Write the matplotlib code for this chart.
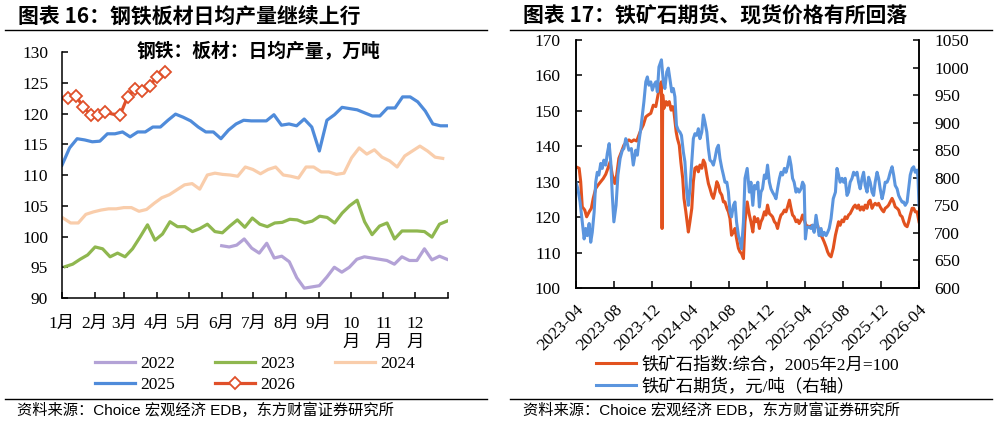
import numpy as np
import matplotlib
matplotlib.use('Agg')
import matplotlib.pyplot as plt
import matplotlib.dates as mdates
from matplotlib.lines import Line2D

plt.rcParams['font.family'] = ['Liberation Serif', 'Noto Sans CJK SC']
plt.rcParams['axes.unicode_minus'] = False

#
# left chart data: weekly plate output, 10k t/day (x = day of year)
#
month_starts = [0, 31, 59, 90, 120, 151, 181, 212, 243, 273, 304, 334]
month_labels = ['1月', '2月', '3月', '4月', '5月', '6月', '7月', '8月', '9月',
                '10\n月', '11\n月', '12\n月']

y2022 = [98.5, 98.3, 98.6, 99.6, 98.1, 97.3, 98.9, 96.5, 96.8, 95.9, 93.3, 91.6,
         91.8, 92.0, 93.4, 95.0, 94.2, 95.0, 96.3, 96.7, 96.5, 96.3, 96.1, 95.5,
         96.7, 96.1, 96.1, 98.0, 96.2, 96.8, 96.3]
y2023 = [95.1, 95.5, 96.3, 97.0, 98.3, 98.0, 96.7, 97.3, 96.7, 98.0,
         99.9, 101.9, 99.4, 100.4, 102.4, 101.6, 101.6, 100.8, 101.3, 102.0,
         100.8, 100.6, 101.7, 102.7, 101.5, 103.0, 102.0, 101.6, 102.2, 102.3,
         102.8, 102.7, 102.2, 102.5, 103.3, 103.1, 102.2, 103.8, 105.0, 105.9,
         102.4, 100.3, 101.7, 102.2, 99.6, 100.9, 100.9, 100.9, 100.8, 99.9,
         102.0, 102.5]
y2024 = [103.0, 102.2, 102.2, 103.6, 104.0, 104.3, 104.5, 104.5, 104.7, 104.7,
         104.1, 104.4, 105.4, 106.3, 106.8, 107.6, 108.4, 108.6, 107.7, 110.0,
         110.3, 110.1, 110.0, 109.8, 111.3, 110.9, 110.2, 110.9, 111.3, 110.0,
         109.8, 109.5, 111.3, 111.3, 110.5, 110.5, 110.1, 110.3, 112.8, 114.4,
         113.4, 114.1, 112.9, 112.3, 111.3, 113.1, 113.9, 114.7, 113.9, 112.9,
         112.7]
y2025 = [111.6, 114.4, 115.9, 115.7, 115.4, 115.5, 116.7, 116.7, 117.0, 116.2,
         117.0, 117.0, 117.8, 117.8, 118.9, 119.9, 119.4, 118.8, 117.8, 117.0,
         117.0, 115.9, 117.3, 118.3, 118.9, 118.8, 118.8, 118.8, 119.8, 118.1,
         118.3, 118.0, 119.1, 117.8, 113.9, 118.9, 119.8, 121.0, 120.8, 120.6,
         120.1, 119.6, 119.6, 120.9, 120.9, 122.7, 122.7, 121.9, 120.4, 118.3,
         118.0, 118.0]
y2026 = [122.5, 122.9, 121.1, 119.8, 119.8, 120.2, 119.9, 119.8, 122.7, 124.0,
         123.7, 124.5, 126.0, 126.7]

#
# right chart data: iron ore index (left axis) and futures (right axis)
# x = days after 2023-04-01
#
index_days = [0, 10, 15, 20, 28, 34, 42, 49, 55, 63,
              70, 79, 87, 95, 102, 109, 116, 124, 130, 137,
              145, 153, 162, 169, 177, 185, 194, 201, 207, 215,
              223, 230, 239, 247, 255, 260, 268, 273, 275, 277,
              281, 288, 292, 298, 304, 309, 313, 320, 324, 330,
              335, 341, 345, 351, 359, 364, 370, 375, 380, 386,
              391, 396, 402, 407, 412, 418, 423, 428, 434, 439,
              444, 450, 455, 460, 466, 471, 476, 482, 487, 492,
              497, 503, 508, 513, 519, 524, 529, 535, 540, 547,
              554, 559, 565, 570, 575, 581, 586, 591, 596, 602,
              607, 612, 618, 623, 628, 634, 639, 644, 650, 655,
              660, 666, 671, 676, 682, 687, 692, 697, 703, 708,
              713, 719, 724, 735, 745, 756, 767, 772, 777, 783,
              788, 793, 799, 804, 809, 815, 822, 829, 834, 839,
              844, 850, 855, 860, 866, 871, 876, 882, 887, 892,
              898, 903, 908, 914, 919, 924, 930, 935, 940, 946,
              951, 956, 962, 967, 972, 978, 983, 988, 994, 999,
              1004, 1010, 1015, 1020, 1026, 1031, 1036, 1042, 1047, 1052,
              1058, 1063, 1068, 1074, 1079, 1084, 1090, 1093, 1096]
index_vals = [134.2, 133.8, 130.0, 122.9, 122.0, 120.1, 121.5, 122.5, 125.3, 128.1,
              129.0, 130.0, 130.9, 132.1, 133.8, 135.6, 131.9, 129.5, 131.9, 136.6,
              138.4, 140.3, 141.3, 141.8, 141.3, 141.8, 141.5, 143.2, 144.6, 146.0,
              148.3, 148.8, 149.3, 151.6, 151.2, 153.5, 157.3, 158.2, 116.8, 154.5,
              150.7, 152.6, 151.6, 152.6, 150.2, 151.2, 149.7, 144.1, 142.2, 140.3,
              135.6, 130.9, 125.3, 121.5, 115.8, 118.7, 122.5, 130.0, 133.8, 134.2,
              132.8, 134.7, 133.8, 136.1, 135.2, 131.9, 129.5, 128.1, 126.2, 125.3,
              127.1, 130.0, 129.0, 127.1, 126.2, 124.3, 124.3, 122.5, 121.5, 119.6,
              114.9, 115.8, 116.8, 114.0, 111.2, 110.2, 109.7, 108.3, 118.7, 124.3,
              120.6, 118.7, 115.8, 120.1, 118.7, 119.6, 116.8, 118.7, 119.6, 121.5,
              120.6, 123.4, 121.0, 120.6, 120.1, 118.7, 118.2, 116.8, 119.2, 120.6,
              121.0, 122.0, 121.5, 122.9, 124.8, 122.5, 120.6, 120.1, 118.7, 119.2,
              118.2, 119.2, 120.6, 117.7, 117.3, 117.7, 117.3, 117.7, 115.8, 114.9,
              114.0, 113.0, 111.6, 110.2, 109.3, 108.8, 111.2, 114.9, 116.8, 118.7,
              117.7, 119.2, 118.7, 120.1, 119.6, 120.6, 121.0, 122.0, 122.9, 123.4,
              122.5, 123.4, 122.0, 122.9, 122.0, 123.4, 122.5, 124.3, 124.8, 122.5,
              123.4, 123.9, 123.4, 123.9, 122.9, 122.0, 121.5, 122.5, 122.9, 123.4,
              124.3, 125.3, 124.3, 122.9, 122.5, 122.0, 120.6, 120.1, 118.7, 117.7,
              117.3, 118.7, 120.6, 122.5, 122.5, 121.5, 121.5, 120.1, 118.7]

fut_days = [0, 6, 13, 20, 26, 31, 36, 42, 47, 52,
            58, 63, 68, 73, 79, 84, 89, 95, 100, 106,
            111, 116, 121, 128, 134, 141, 148, 153, 159, 164,
            169, 177, 183, 191, 196, 201, 207, 212, 217, 223,
            228, 233, 239, 244, 249, 255, 260, 265, 273, 279,
            284, 290, 295, 300, 306, 311, 316, 321, 327, 332,
            337, 343, 348, 354, 359, 364, 370, 375, 380, 386,
            391, 396, 402, 407, 412, 418, 423, 428, 434, 439,
            444, 450, 455, 460, 466, 471, 476, 482, 487, 492,
            497, 503, 508, 513, 519, 524, 529, 535, 540, 547,
            554, 559, 565, 570, 575, 581, 586, 591, 596, 602,
            607, 612, 618, 623, 628, 634, 639, 644, 650, 655,
            660, 666, 671, 676, 682, 687, 692, 697, 703, 708,
            713, 719, 724, 729, 733, 737, 743, 751, 756, 761,
            767, 772, 777, 783, 788, 793, 799, 804, 809, 815,
            822, 829, 834, 839, 844, 850, 855, 860, 866, 871,
            876, 882, 887, 892, 898, 903, 908, 914, 919, 924,
            930, 935, 940, 946, 951, 956, 962, 967, 972, 978,
            983, 988, 994, 999, 1004, 1010, 1015, 1020, 1026, 1031,
            1036, 1042, 1047, 1052, 1058, 1063, 1068, 1074, 1079, 1084,
            1090, 1093, 1096]
fut_vals = [792, 780, 756, 720, 689, 708, 695, 717, 683, 701,
            738, 792, 810, 805, 826, 817, 832, 823, 844, 862,
            829, 768, 720, 750, 805, 835, 850, 853, 871, 862,
            850, 853, 823, 850, 841, 865, 889, 914, 938, 974,
            983, 968, 974, 959, 968, 974, 956, 1001, 1014, 974,
            962, 992, 999, 980, 956, 962, 947, 895, 886, 883,
            877, 847, 829, 774, 750, 780, 829, 871, 880, 877,
            889, 871, 883, 914, 901, 883, 853, 832, 829, 823,
            835, 853, 859, 835, 817, 805, 792, 792, 774, 738,
            729, 750, 756, 720, 695, 686, 671, 720, 799, 817,
            774, 792, 750, 786, 780, 792, 747, 774, 780, 805,
            799, 823, 792, 780, 774, 768, 762, 780, 799, 810,
            805, 817, 810, 820, 838, 823, 799, 792, 774, 780,
            774, 780, 792, 786, 689, 708, 711, 708, 714, 701,
            732, 714, 695, 708, 695, 701, 695, 701, 708, 726,
            762, 774, 817, 805, 792, 799, 792, 799, 768, 774,
            792, 799, 810, 805, 810, 792, 780, 799, 810, 786,
            774, 801, 792, 774, 768, 792, 810, 799, 780, 762,
            774, 792, 792, 799, 810, 820, 805, 786, 780, 768,
            762, 756, 756, 750, 756, 780, 805, 817, 820, 810,
            814, 799, 750]

W, H = 998, 423
fig = plt.figure(figsize=(W / 100, H / 100), dpi=100)

cjk_bold = dict(family=['Noto Sans CJK SC'], fontweight='bold')
foot_font = dict(family=['Liberation Sans', 'Noto Sans CJK SC'], fontsize=11)

# headers / rules / footers
fig.text(18 / W, 1 - 16 / H, '图表 16：钢铁板材日均产量继续上行', fontsize=15, va='center', **cjk_bold)
fig.text(523 / W, 1 - 16 / H, '图表 17：铁矿石期货、现货价格有所回落', fontsize=15, va='center', **cjk_bold)
for x0, x1 in [(5, 487), (510, 992)]:
    fig.add_artist(Line2D([x0 / W, x1 / W], [1 - 30 / H] * 2, color='black', lw=1.0))
    fig.add_artist(Line2D([x0 / W, x1 / W], [1 - 399 / H] * 2, color='black', lw=1.0))
fig.text(17 / W, 1 - 410 / H, '资料来源：Choice 宏观经济 EDB，东方财富证券研究所', va='center', **foot_font)
fig.text(523 / W, 1 - 410 / H, '资料来源：Choice 宏观经济 EDB，东方财富证券研究所', va='center', **foot_font)

#
# left plot
#
ax = fig.add_axes([62 / W, 1 - 298 / H, 386 / W, 246 / H])
l22, = ax.plot(np.linspace(151, 364, len(y2022)), y2022, color='#B3A2D6', lw=2.3, label='2022')
l23, = ax.plot(np.linspace(3, 364, len(y2023)), y2023, color='#8FB74F', lw=2.3, label='2023')
l24, = ax.plot(np.linspace(1, 360, len(y2024)), y2024, color='#F9CDAB', lw=2.3, label='2024')
l25, = ax.plot(np.linspace(0, 365, len(y2025)), y2025, color='#4F8BDA', lw=2.3, label='2025')
marks = [i for i in range(len(y2026)) if i != 6]
l26, = ax.plot(6 + 7 * np.arange(len(y2026)), y2026, color='#E0502A', lw=2.3, label='2026',
               marker='D', ms=6, mfc='white', mec='#E0502A', mew=1.3, markevery=marks)

ax.set_xlim(0, 365)
ax.set_ylim(90, 130)
ax.set_yticks(np.arange(90, 131, 5))
ax.set_xticks(month_starts + [365])
ax.set_xticklabels(month_labels + [''], va='top')
for s in ['top', 'right']:
    ax.spines[s].set_visible(False)
for s in ['left', 'bottom']:
    ax.spines[s].set_linewidth(1.1)
ax.tick_params(axis='y', direction='in', length=4, width=1.1, labelsize=12.5, pad=10)
ax.tick_params(axis='x', direction='in', length=4, width=1.1, labelsize=12.5, pad=13)
ax.text(0.508, 1.0, '钢铁：板材：日均产量，万吨', transform=ax.transAxes,
        ha='center', va='center', fontsize=13.5, **cjk_bold)

fig.legend([l22, l25, l23, l26, l24], ['2022', '2025', '2023', '2026', '2024'],
           ncol=3, loc='upper left', bbox_to_anchor=(95 / W, 1 - 356 / H),
           frameon=False, fontsize=12.5, handlelength=2.3, handletextpad=0.3,
           columnspacing=2.3, labelspacing=0.25, borderpad=0, borderaxespad=0)

#
# right plot
#
base = np.datetime64('2023-04-01')
axr = fig.add_axes([576 / W, 1 - 288 / H, 343 / W, 248 / H])
axr2 = axr.twinx()
r1, = axr.plot(base + np.array(index_days), index_vals, color='#E2521F', lw=2.2)
r2, = axr2.plot(base + np.array(fut_days), fut_vals, color='#5B95DE', lw=2.2)

axr.set_xlim(base, np.datetime64('2026-04-01'))
axr.set_ylim(100, 170)
axr.set_yticks(np.arange(100, 171, 10))
axr2.set_ylim(600, 1050)
axr2.set_yticks(np.arange(600, 1051, 50))
axr.xaxis.set_major_locator(mdates.MonthLocator(bymonth=[4, 8, 12]))
axr.xaxis.set_major_formatter(mdates.DateFormatter('%Y-%m'))
for a in (axr, axr2):
    a.spines['top'].set_visible(False)
    for s in ['left', 'right', 'bottom']:
        a.spines[s].set_linewidth(1.1)
axr.tick_params(axis='y', direction='in', length=4, width=1.1, labelsize=12.5, pad=11)
axr2.tick_params(axis='y', direction='in', length=4, width=1.1, labelsize=12.5, pad=11)
axr.tick_params(axis='x', direction='in', length=5, width=1.1, labelsize=12.5, pad=10)
for lab in axr.get_xticklabels():
    lab.set_rotation(45)
    lab.set_ha('right')
    lab.set_rotation_mode('anchor')

fig.legend([r1, r2], ['铁矿石指数:综合，2005年2月=100', '铁矿石期货，元/吨（右轴）'],
           loc='upper left', bbox_to_anchor=(596 / W, 1 - 356 / H),
           frameon=False, fontsize=12.5, handlelength=2.3, handletextpad=0.3,
           labelspacing=0.3, borderpad=0, borderaxespad=0)

fig.savefig('out.png', dpi=100)
